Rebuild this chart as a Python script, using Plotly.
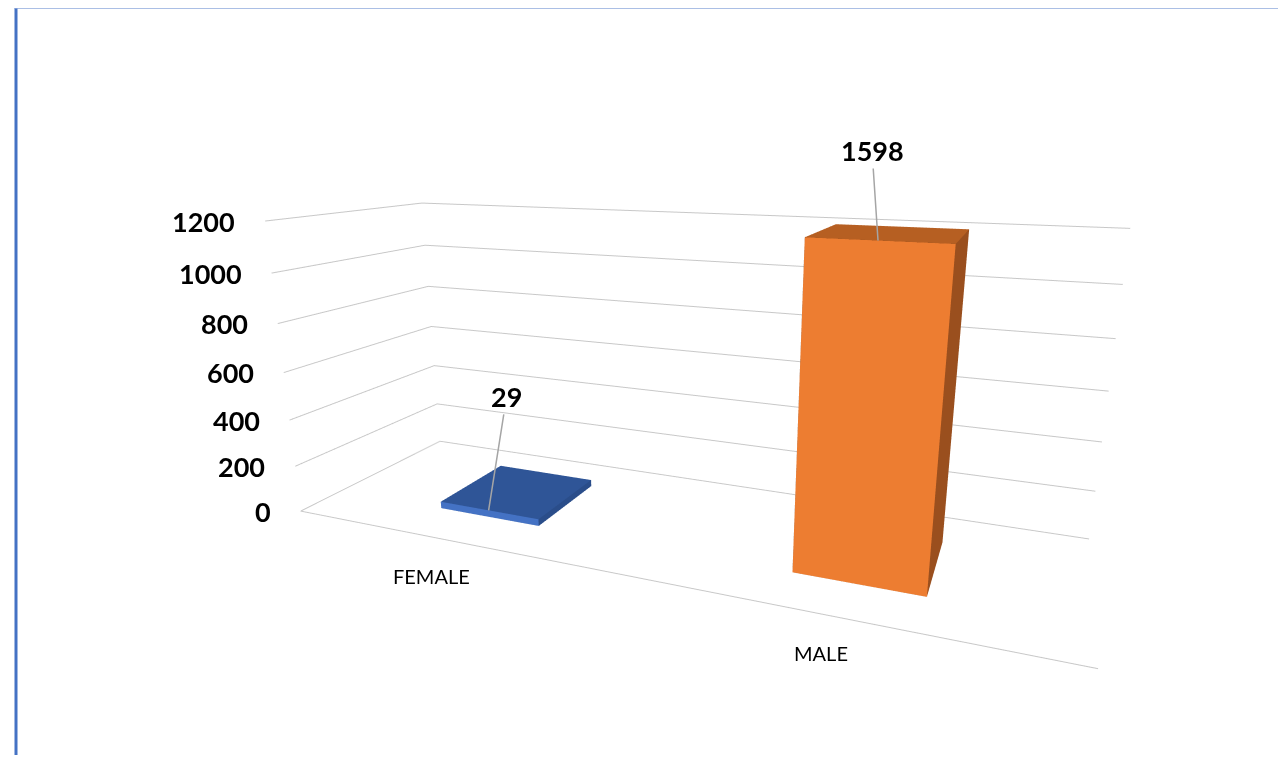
import plotly.graph_objects as go

# ---- data ----
categories = ["FEMALE", "MALE"]
values = [29, 1598]
z_ticks = [0, 200, 400, 600, 800, 1000, 1200]

# ---- styling ----
front_colors = ["#4472C4", "#ED7D31"]
top_colors = ["#2F5597", "#B65F22"]
side_colors = ["#2A4D8A", "#9A4F1E"]
Z_MAX = 1200            # value axis maximum (bars taller than this are cut at the top)
BAR_W = 0.31            # bar width, in category units
Y0, Y1 = 0.26, 0.74     # bar depth span inside the 0..1 depth axis
FONT = "Lato"
GRID = "#C8C8C8"

fig = go.Figure()

# 12 triangles of a box: (vertex indices, face kind)
tri = [
    ((0, 1, 2), "side"), ((0, 2, 3), "side"),      # bottom
    ((4, 5, 6), "top"), ((4, 6, 7), "top"),        # top
    ((0, 1, 5), "front"), ((0, 5, 4), "front"),    # front
    ((3, 2, 6), "side"), ((3, 6, 7), "side"),      # back
    ((0, 3, 7), "side"), ((0, 7, 4), "side"),      # left
    ((1, 2, 6), "side"), ((1, 6, 5), "side"),      # right
]

for idx, v in enumerate(values):
    h = min(v, Z_MAX)
    x0, x1 = idx - BAR_W / 2, idx + BAR_W / 2
    xs = [x0, x1, x1, x0, x0, x1, x1, x0]
    ys = [Y0, Y0, Y1, Y1, Y0, Y0, Y1, Y1]
    zs = [0, 0, 0, 0, h, h, h, h]
    cmap = {"front": front_colors[idx], "top": top_colors[idx], "side": side_colors[idx]}
    fig.add_trace(go.Mesh3d(
        x=xs, y=ys, z=zs,
        i=[t[0][0] for t in tri], j=[t[0][1] for t in tri], k=[t[0][2] for t in tri],
        facecolor=[cmap[t[1]] for t in tri],
        flatshading=True,
        lighting=dict(ambient=1, diffuse=0, specular=0, roughness=1, fresnel=0),
        hoverinfo="skip", showscale=False, name=categories[idx],
    ))

annotations = []
# value-axis tick labels along the front-left edge
for t in z_ticks:
    annotations.append(dict(x=-0.5, y=0, z=t, text=f"<b>{t}</b>", showarrow=False,
                            xanchor="right", xshift=-28,
                            font=dict(family=FONT, size=27, color="black")))
# category labels under the front edge
for idx, cat in enumerate(categories):
    annotations.append(dict(x=idx, y=0, z=0, text=cat, showarrow=False,
                            xshift=-22, yshift=-35,
                            font=dict(family=FONT, size=20, color="black")))
# data labels with leader lines
label_offsets = [(18, -114), (-6, -90)]
for idx, v in enumerate(values):
    h = min(v, Z_MAX)
    annotations.append(dict(x=idx, y=Y0, z=h, text=f"<b>{v}</b>", showarrow=True,
                            arrowhead=0, arrowwidth=1.5, arrowcolor="#A5A5A5",
                            ax=label_offsets[idx][0], ay=label_offsets[idx][1],
                            font=dict(family=FONT, size=27, color="black")))

axis_common = dict(showbackground=False, zeroline=False, showspikes=False,
                   ticks="", title=dict(text=""))

fig.update_layout(
    margin=dict(l=0, r=0, t=0, b=0),
    paper_bgcolor="white",
    showlegend=False,
    scene=dict(
        domain=dict(x=[0.06, 1.0], y=[0.0, 1.0]),
        bgcolor="white",
        aspectmode="manual",
        aspectratio=dict(x=2.54, y=0.79, z=1.0),
        xaxis=dict(range=[-0.5, 1.5], tickvals=[0, 1], ticktext=categories,
                   showticklabels=False, showgrid=False, showline=True,
                   linecolor=GRID, linewidth=2, **axis_common),
        yaxis=dict(range=[0, 1], showticklabels=False, showgrid=False,
                   showline=False, **axis_common),
        zaxis=dict(range=[0, Z_MAX], tickvals=z_ticks, showticklabels=False,
                   showgrid=True, gridcolor=GRID, gridwidth=2,
                   showline=False, **axis_common),
        camera=dict(eye=dict(x=1.05, y=-2.59, z=0.78), center=dict(x=0, y=0, z=0),
                    up=dict(x=0, y=0, z=1), projection=dict(type="perspective")),
        annotations=annotations,
    ),
    shapes=[
        dict(type="line", xref="paper", yref="paper", x0=8 / 1270, x1=8 / 1270,
             y0=0, y1=1, line=dict(color="#4472C4", width=3)),
        dict(type="line", xref="paper", yref="paper", x0=7 / 1270, x1=1,
             y0=1, y1=1, line=dict(color="#8FAADC", width=1.5)),
    ],
)

fig.write_html("out.html")
